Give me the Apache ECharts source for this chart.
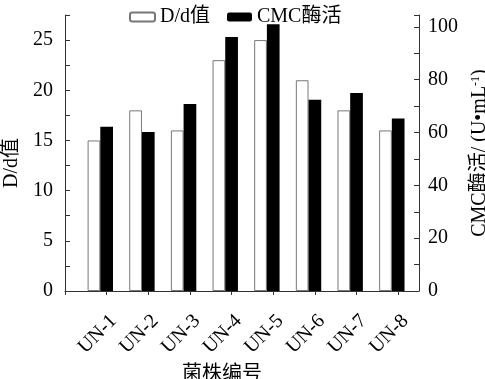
<!DOCTYPE html>
<html>
<head>
<meta charset="utf-8">
<script src="https://cdn.jsdelivr.net/npm/echarts@6/dist/echarts.min.js"></script>
<style>html,body{margin:0;padding:0;background:#fff}#c{width:485px;height:379px}</style>
</head>
<body>
<div id="c"></div>
<script>
var categories = ['UN-1','UN-2','UN-3','UN-4','UN-5','UN-6','UN-7','UN-8'];
var ddValues = [15, 18, 16, 23, 25, 21, 18, 16];
var cmcValues = [62.2, 60.2, 70.8, 96.2, 101, 72.4, 75, 65.3];
var leftTicks = [0, 5, 10, 15, 20, 25];
var rightTicks = [0, 20, 40, 60, 80, 100];

var FONT = "'Liberation Serif', 'Times New Roman', 'Noto Sans CJK SC', serif";
var AX = '#333';

var chart = echarts.init(document.getElementById('c'));
chart.setOption({
  animation: false,
  textStyle: {fontFamily: FONT, color: '#000'},
  legend: {
    left: 124, top: 2,
    itemWidth: 25, itemHeight: 9, itemGap: 17,
    textStyle: {fontFamily: FONT, fontSize: 20, color: '#000'},
    data: ['D/d值', 'CMC酶活']
  },
  grid: {left: 65, right: 66, top: 15, bottom: 88, containLabel: false, outerBoundsMode: 'none'},
  xAxis: [{
    type: 'value', min: 0, max: 8.5, interval: 1,
    axisLine: {lineStyle: {color: AX, width: 1}},
    axisTick: {show: true, inside: false, length: 4, lineStyle: {color: AX}},
    splitLine: {show: false},
    axisLabel: {
      rotate: 45, margin: 20, fontSize: 20, color: '#000', fontFamily: FONT,
      verticalAlign: 'top',
      showMaxLabel: false,
      formatter: function (v) { return categories[v - 1] || ''; }
    },
    name: '菌株编号', nameLocation: 'middle', nameGap: 64,
    nameTextStyle: {fontSize: 20, color: '#000', fontFamily: FONT, padding: [0, 40, 0, 0]}
  }, {
    type: 'value', min: 0.305, max: 8.805, show: false
  }],
  yAxis: [{
    type: 'value', min: 0, max: 27.5, interval: 2.5,
    axisLine: {show: true, lineStyle: {color: AX, width: 1}},
    axisTick: {show: true, inside: true, length: 5, lineStyle: {color: AX}},
    splitLine: {show: false},
    axisLabel: {
      margin: 12, fontSize: 20, color: '#000', fontFamily: FONT,
      formatter: function (v) { return leftTicks.indexOf(v) >= 0 ? String(v) : ''; }
    },
    name: 'D/d值', nameLocation: 'middle', nameGap: 43,
    nameTextStyle: {fontSize: 20, color: '#000', fontFamily: FONT, padding: [0, 20, 0, 0]}
  }, {
    type: 'value', min: 0, max: 104.5, interval: 10, position: 'right',
    axisLine: {show: true, lineStyle: {color: AX, width: 1}},
    axisTick: {show: true, inside: true, length: 5, lineStyle: {color: AX}},
    splitLine: {show: false},
    axisLabel: {
      margin: 9, fontSize: 20, color: '#000', fontFamily: FONT,
      formatter: function (v) { return rightTicks.indexOf(v) >= 0 ? String(v) : ''; }
    },
    name: 'CMC酶活/ (U•mL{sup|-1})', nameLocation: 'middle', nameGap: 51,
    nameTextStyle: {
      fontSize: 20, color: '#000', fontFamily: FONT,
      rich: {sup: {fontSize: 12, fontFamily: FONT, color: '#000', verticalAlign: 'top', padding: [0, 0, 8, 0]}}
    }
  }],
  series: [{
    name: 'D/d值', type: 'bar', xAxisIndex: 1, yAxisIndex: 0,
    barWidth: 12.7,
    itemStyle: {color: '#fff', borderColor: '#777', borderWidth: 1},
    data: ddValues.map(function (v, i) { return [i + 1, v]; })
  }, {
    name: 'CMC酶活', type: 'bar', xAxisIndex: 0, yAxisIndex: 1,
    barWidth: 12.7,
    itemStyle: {color: '#000'},
    data: cmcValues.map(function (v, i) { return [i + 1, v]; })
  }]
});
</script>
</body>
</html>
